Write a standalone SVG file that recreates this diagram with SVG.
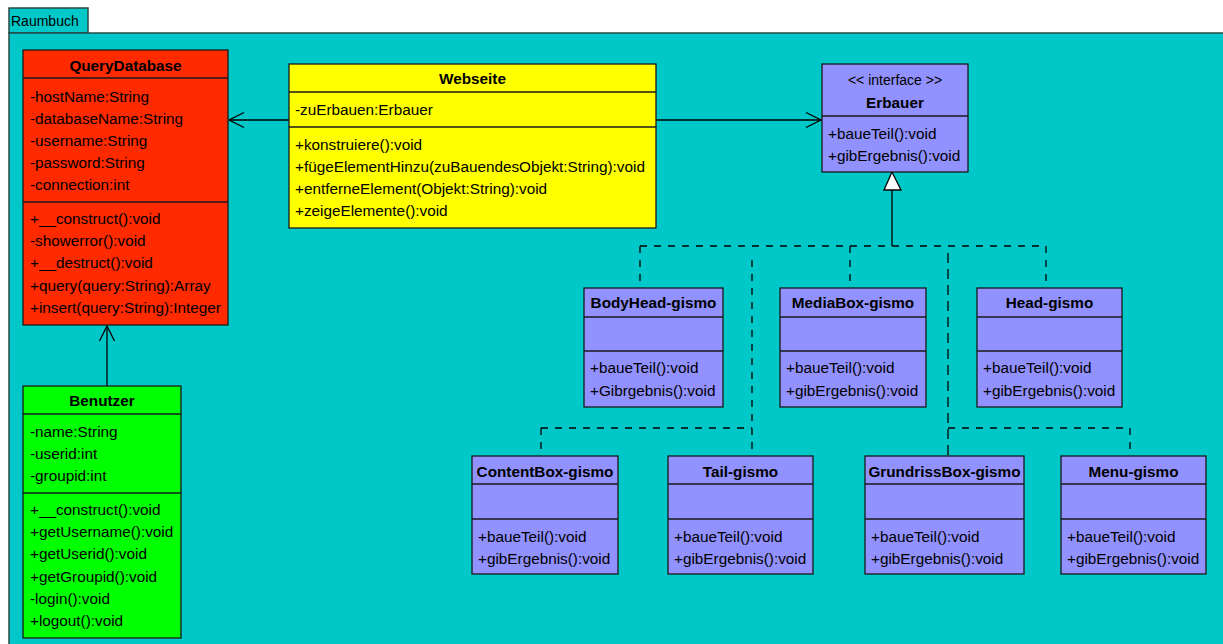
<svg xmlns="http://www.w3.org/2000/svg" width="1223" height="644" viewBox="0 0 1223 644">
<defs>
<style>
.pkg{fill:#00C8C8;stroke:#2a4a4a;stroke-width:1.5}
.box{stroke:#1a1a1a;stroke-width:1.3}
.sep{stroke:#1a1a1a;stroke-width:1.3}
.red{fill:#FF2A00}
.yel{fill:#FFFF00}
.grn{fill:#00FF00}
.blu{fill:#9191FF}
text{font-family:"Liberation Sans",Arial,sans-serif;font-size:15.3px;fill:#000}
.t{font-weight:bold;text-anchor:middle}
.st{text-anchor:middle;font-size:14px}
.ln{stroke:#000;stroke-width:1.3;fill:none}
.dash{stroke:#000;stroke-width:1.3;fill:none;stroke-dasharray:7,7}
</style>
<marker id="openArrow" viewBox="0 0 20 20" refX="19" refY="10" markerWidth="20" markerHeight="20" markerUnits="userSpaceOnUse" orient="auto" overflow="visible">
<path d="M4,2.5 L19,10 L4,17.5" fill="none" stroke="#000" stroke-width="1.3"/>
</marker>
</defs>
<rect x="0" y="0" width="1223" height="644" fill="#ffffff"/>
<g id="package">
<rect class="pkg" x="9" y="8" width="79" height="25"/>
<rect class="pkg" x="9" y="33" width="1230" height="630"/>
<text x="11" y="26" style="font-size:14px">Raumbuch</text>
</g>
<g id="connectors">
<path class="ln" d="M289,120 L229,120" marker-end="url(#openArrow)"/>
<path class="ln" d="M656,120 L821,120" marker-end="url(#openArrow)"/>
<path class="ln" d="M107,386 L107,326" marker-end="url(#openArrow)"/>
<line class="ln" x1="892" y1="190" x2="892" y2="246"/>
<polygon points="892,172 884,190 901,190" fill="#fff" stroke="#000" stroke-width="1.3"/>
<line class="dash" x1="640" y1="246" x2="1046" y2="246"/>
<line class="dash" x1="640" y1="246" x2="640" y2="288"/>
<line class="dash" x1="850" y1="246" x2="850" y2="288"/>
<line class="dash" x1="1046" y1="246" x2="1046" y2="288"/>
<line class="dash" x1="752" y1="260" x2="752" y2="456"/>
<line class="dash" x1="948" y1="253" x2="948" y2="456" style="stroke-dasharray:10,6"/>
<line class="dash" x1="541" y1="428" x2="752" y2="428"/>
<line class="dash" x1="948" y1="428" x2="1130" y2="428"/>
<line class="dash" x1="541" y1="428" x2="541" y2="456"/>
<line class="dash" x1="1130" y1="428" x2="1130" y2="456"/>
</g>
<g id="QueryDatabase">
<rect class="box red" x="23" y="50" width="205" height="275"/>
<line class="sep" x1="23" y1="78" x2="228" y2="78"/>
<line class="sep" x1="23" y1="202" x2="228" y2="202"/>
<text class="t" x="125.5" y="71">QueryDatabase</text>
<text x="30" y="102">-hostName:String</text>
<text x="30" y="124">-databaseName:String</text>
<text x="30" y="146">-username:String</text>
<text x="30" y="168">-password:String</text>
<text x="30" y="190">-connection:int</text>
<text x="30" y="224">+__construct():void</text>
<text x="30" y="246">-showerror():void</text>
<text x="30" y="268">+__destruct():void</text>
<text x="30" y="291">+query(query:String):Array</text>
<text x="30" y="313">+insert(query:String):Integer</text>
</g>
<g id="Benutzer">
<rect class="box grn" x="23" y="386" width="158" height="252"/>
<line class="sep" x1="23" y1="414" x2="181" y2="414"/>
<line class="sep" x1="23" y1="493" x2="181" y2="493"/>
<text class="t" x="102" y="406">Benutzer</text>
<text x="30" y="437">-name:String</text>
<text x="30" y="459">-userid:int</text>
<text x="30" y="481">-groupid:int</text>
<text x="30" y="515">+__construct():void</text>
<text x="30" y="537">+getUsername():void</text>
<text x="30" y="559">+getUserid():void</text>
<text x="30" y="582">+getGroupid():void</text>
<text x="30" y="604">-login():void</text>
<text x="30" y="626">+logout():void</text>
</g>
<g id="Webseite">
<rect class="box yel" x="289" y="64" width="367" height="164"/>
<line class="sep" x1="289" y1="92" x2="656" y2="92"/>
<line class="sep" x1="289" y1="127" x2="656" y2="127"/>
<text class="t" x="472.5" y="84">Webseite</text>
<text x="295" y="115">-zuErbauen:Erbauer</text>
<text x="295" y="150">+konstruiere():void</text>
<text x="295" y="172">+fügeElementHinzu(zuBauendesObjekt:String):void</text>
<text x="295" y="194">+entferneElement(Objekt:String):void</text>
<text x="295" y="216">+zeigeElemente():void</text>
</g>
<g id="Erbauer">
<rect class="box blu" x="822" y="64" width="146" height="108"/>
<line class="sep" x1="822" y1="116" x2="968" y2="116"/>
<text class="st" x="895" y="85">&lt;&lt; interface &gt;&gt;</text>
<text class="t" x="895" y="108">Erbauer</text>
<text x="828" y="139">+baueTeil():void</text>
<text x="828" y="161">+gibErgebnis():void</text>
</g>
<g id="BodyHead-gismo">
<rect class="box blu" x="584" y="288" width="139" height="119"/>
<line class="sep" x1="584" y1="317" x2="723" y2="317"/>
<line class="sep" x1="584" y1="351" x2="723" y2="351"/>
<text class="t" x="653.5" y="308">BodyHead-gismo</text>
<text x="590" y="373">+baueTeil():void</text>
<text x="590" y="396">+Gibrgebnis():void</text>
</g>
<g id="MediaBox-gismo">
<rect class="box blu" x="780" y="288" width="146" height="119"/>
<line class="sep" x1="780" y1="317" x2="926" y2="317"/>
<line class="sep" x1="780" y1="351" x2="926" y2="351"/>
<text class="t" x="853" y="308">MediaBox-gismo</text>
<text x="786" y="373">+baueTeil():void</text>
<text x="786" y="396">+gibErgebnis():void</text>
</g>
<g id="Head-gismo">
<rect class="box blu" x="977" y="288" width="145" height="119"/>
<line class="sep" x1="977" y1="317" x2="1122" y2="317"/>
<line class="sep" x1="977" y1="351" x2="1122" y2="351"/>
<text class="t" x="1049.5" y="308">Head-gismo</text>
<text x="983" y="373">+baueTeil():void</text>
<text x="983" y="396">+gibErgebnis():void</text>
</g>
<g id="ContentBox-gismo">
<rect class="box blu" x="472" y="456" width="146" height="118"/>
<line class="sep" x1="472" y1="484" x2="618" y2="484"/>
<line class="sep" x1="472" y1="519" x2="618" y2="519"/>
<text class="t" x="545" y="477">ContentBox-gismo</text>
<text x="478" y="542">+baueTeil():void</text>
<text x="478" y="564">+gibErgebnis():void</text>
</g>
<g id="Tail-gismo">
<rect class="box blu" x="668" y="456" width="145" height="118"/>
<line class="sep" x1="668" y1="484" x2="813" y2="484"/>
<line class="sep" x1="668" y1="519" x2="813" y2="519"/>
<text class="t" x="740.5" y="477">Tail-gismo</text>
<text x="674" y="542">+baueTeil():void</text>
<text x="674" y="564">+gibErgebnis():void</text>
</g>
<g id="GrundrissBox-gismo">
<rect class="box blu" x="865" y="456" width="159" height="118"/>
<line class="sep" x1="865" y1="484" x2="1024" y2="484"/>
<line class="sep" x1="865" y1="519" x2="1024" y2="519"/>
<text class="t" x="944.5" y="477">GrundrissBox-gismo</text>
<text x="871" y="542">+baueTeil():void</text>
<text x="871" y="564">+gibErgebnis():void</text>
</g>
<g id="Menu-gismo">
<rect class="box blu" x="1061" y="456" width="145" height="118"/>
<line class="sep" x1="1061" y1="484" x2="1206" y2="484"/>
<line class="sep" x1="1061" y1="519" x2="1206" y2="519"/>
<text class="t" x="1133.5" y="477">Menu-gismo</text>
<text x="1067" y="564" dy="-22">+baueTeil():void</text>
<text x="1067" y="564">+gibErgebnis():void</text>
</g>
</svg>
